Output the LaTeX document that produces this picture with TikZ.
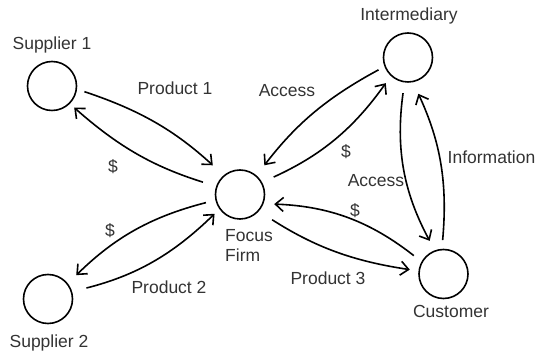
\documentclass[tikz,border=0pt]{standalone}
\usepackage{fontspec}
\setmainfont{Liberation Sans}
\usetikzlibrary{arrows.meta}
\begin{document}
\begin{tikzpicture}[x=1pt,y=1pt,
  actor/.style={circle,draw=black,line width=1.6pt,minimum size=49pt,inner sep=0pt,outer sep=0pt},
  lbl/.style={text=black!80,font=\fontsize{17.5}{20}\selectfont,inner sep=0pt,anchor=base},
  flow/.style={draw=black,line width=1.6pt,-{Straight Barb[length=8pt,width=14pt,line width=1.6pt]}}]
\useasboundingbox (0,0) rectangle (536,-352);
% actors
\node[actor] (s1) at (52,-86) {};
\node[actor] (s2) at (48,-299) {};
\node[actor] (ff) at (240,-194.5) {};
\node[actor] (im) at (408,-57.5) {};
\node[actor] (cu) at (443.5,-274) {};
% actor labels
\node[lbl] (s1l) at (52,-50) {Supplier 1};
\node[lbl] (s2l) at (49,-348) {Supplier 2};
\node[lbl] (iml) at (409,-21) {Intermediary};
\node[lbl] (cul) at (451,-318) {Customer};
\node[lbl,anchor=base west,align=left] (ffl) at (225,-262) {Focus\\Firm};
% flows
\draw[flow,shorten <=8.5pt,shorten >=15.5pt] (s1.-7) to[bend left=12] (ff.130);
\draw[flow,shorten <=14.5pt,shorten >=6.5pt] (ff.161) to[bend left=12] (s1.-45);
\draw[flow,shorten <=10.5pt,shorten >=12.5pt] (ff.-167) to[bend right=15] (s2.38);
\draw[flow,shorten <=15.5pt,shorten >=7.5pt] (s2.17) to[bend right=15] (ff.-145);
\draw[flow,shorten <=7.5pt,shorten >=13.5pt] (im.-159) to[bend right=12] (ff.49);
\draw[flow,shorten <=13.5pt,shorten >=9.5pt] (ff.29) to[bend right=15] (im.-133);
\draw[flow,shorten <=11.5pt,shorten >=11.5pt] (im.-98) to[bend right=18] (cu.110);
\draw[flow,shorten <=9.5pt,shorten >=13.5pt] (cu.94) to[bend right=15] (im.-79);
\draw[flow,shorten <=10.5pt,shorten >=11.5pt] (cu.151) to[bend right=18] (ff.-22);
\draw[flow,shorten <=16.5pt,shorten >=9.5pt] (ff.-42.5) to[bend right=12] (cu.173);
% flow labels
\node[lbl] (p1) at (175,-95) {Product 1};
\node[lbl] (d1) at (113,-173) {\$};
\node[lbl] (d2) at (110,-237) {\$};
\node[lbl] (p2) at (169,-294) {Product 2};
\node[lbl] (a1) at (287,-97) {Access};
\node[lbl] (d3) at (346,-158) {\$};
\node[lbl,anchor=base west] (inf) at (447.5,-164) {Information};
\node[lbl] (a2) at (376,-187) {Access};
\node[lbl] (d4) at (355,-217) {\$};
\node[lbl] (p3) at (328,-285) {Product 3};
\end{tikzpicture}
\end{document}
